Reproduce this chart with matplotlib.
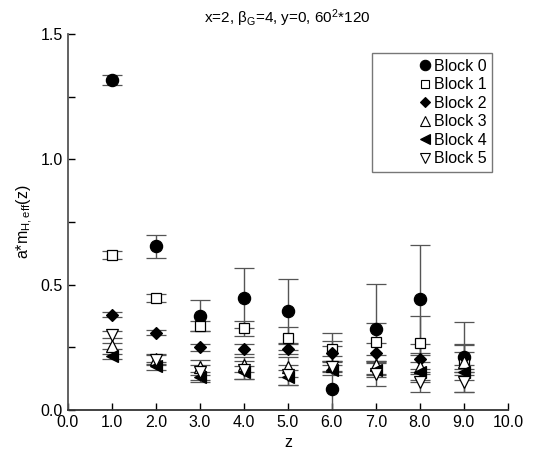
import matplotlib
matplotlib.use("Agg")
import matplotlib.pyplot as plt
from matplotlib.lines import Line2D
from matplotlib.legend_handler import HandlerLine2D
import numpy as np

plt.rcParams['font.family'] = ['Liberation Sans', 'DejaVu Sans']

z = [1, 2, 3, 4, 5, 6, 7, 8, 9]

# block values and errors
block0 = [1.316, 0.652, 0.376, 0.448, 0.395, 0.085, 0.322, 0.443, 0.21]
block0_err = [0.02, 0.045, 0.063, 0.12, 0.129, 0.22, 0.18, 0.215, 0.14]
block1 = [0.618, 0.446, 0.334, 0.326, 0.286, 0.245, 0.272, 0.268, 0.2]
block1_err = [0.015, 0.015, 0.02, 0.03, 0.045, 0.03, 0.075, 0.105, 0.06]
block2 = [0.379, 0.308, 0.25, 0.242, 0.243, 0.226, 0.226, 0.202, 0.213]
block2_err = [0.01, 0.01, 0.015, 0.02, 0.02, 0.03, 0.04, 0.06, 0.05]
block3 = [0.255, 0.205, 0.17, 0.18, 0.17, 0.175, 0.18, 0.17, 0.19]
block3_err = [0.012, 0.02, 0.03, 0.03, 0.04, 0.02, 0.04, 0.05, 0.04]
block4 = [0.215, 0.175, 0.13, 0.15, 0.13, 0.16, 0.16, 0.15, 0.15]
block4_err = [0.01, 0.015, 0.02, 0.025, 0.03, 0.02, 0.03, 0.04, 0.03]
block5 = [0.30, 0.20, 0.15, 0.16, 0.14, 0.17, 0.145, 0.11, 0.11]
block5_err = [0.015, 0.02, 0.03, 0.035, 0.04, 0.02, 0.05, 0.04, 0.04]

series = [
    ("Block 0", block0, block0_err, "o", "black", 8.8),
    ("Block 1", block1, block1_err, "s", "white", 7.4),
    ("Block 2", block2, block2_err, "D", "black", 6.3),
    ("Block 3", block3, block3_err, "^", "white", 9),
    ("Block 4", block4, block4_err, "<", "black", 9),
    ("Block 5", block5, block5_err, "v", "white", 9),
]


class RightMarker(HandlerLine2D):
    # put the legend marker near the right end of the handle box
    def get_xdata(self, legend, xdescent, ydescent, width, height, fontsize):
        x = np.array([-xdescent + width - 0.45 * fontsize])
        return x, x


fig = plt.figure(figsize=(5.34, 4.51), dpi=100)
ax = fig.add_axes([0.127, 0.091, 0.824, 0.834])

handles = []
for name, vals, errs, mk, fc, ms in series:
    ax.errorbar(z, vals, yerr=errs, fmt=mk, mfc=fc, mec="black", mew=0.9,
                ms=ms, ecolor="#555555", elinewidth=1, capsize=7.5,
                capthick=1.2)
    handles.append(Line2D([0], [0], marker=mk, ls="none", mfc=fc, mec="black",
                          mew=0.8, ms=ms * 0.85, label=name))

ax.set_xlim(0, 10)
ax.set_ylim(0, 1.5)
ax.set_xticks(np.arange(0, 10.5, 1.0))
ax.set_xticklabels(["%.1f" % v for v in np.arange(0, 10.5, 1.0)])
ax.set_yticks([0, 0.5, 1.0, 1.5])
ax.set_yticklabels(["0.0", "0.5", "1.0", "1.5"])
ax.set_yticks([0.25, 0.75, 1.25], minor=True)
ax.tick_params(direction="in", length=5, labelsize=11.5, width=1)
ax.tick_params(which="minor", direction="in", length=5, width=1)

ax.spines["top"].set_visible(False)
ax.spines["right"].set_visible(False)
ax.spines["left"].set_color("#555555")
ax.spines["bottom"].set_color("#333333")
ax.spines["left"].set_linewidth(1.3)
ax.spines["bottom"].set_linewidth(1.3)

ax.set_title(r"x=2, $\mathregular{\beta_G}$=4, y=0, 60$\mathregular{^2}$*120", fontsize=11, pad=8)
ax.set_xlabel("z", fontsize=11.5)
ax.set_ylabel(r"a*m$\mathregular{_{H,eff}}$(z)", fontsize=11.5)

leg = ax.legend(handles=handles, loc="upper right", bbox_to_anchor=(0.964, 0.949),
                borderaxespad=0, fontsize=11.5, frameon=True, fancybox=False,
                handlelength=3.4, handletextpad=0.1, borderpad=0.35,
                labelspacing=0.22, handler_map={Line2D: RightMarker()})
leg.get_frame().set_edgecolor("#555555")
leg.get_frame().set_linewidth(1)

fig.savefig("out.png", dpi=100)
